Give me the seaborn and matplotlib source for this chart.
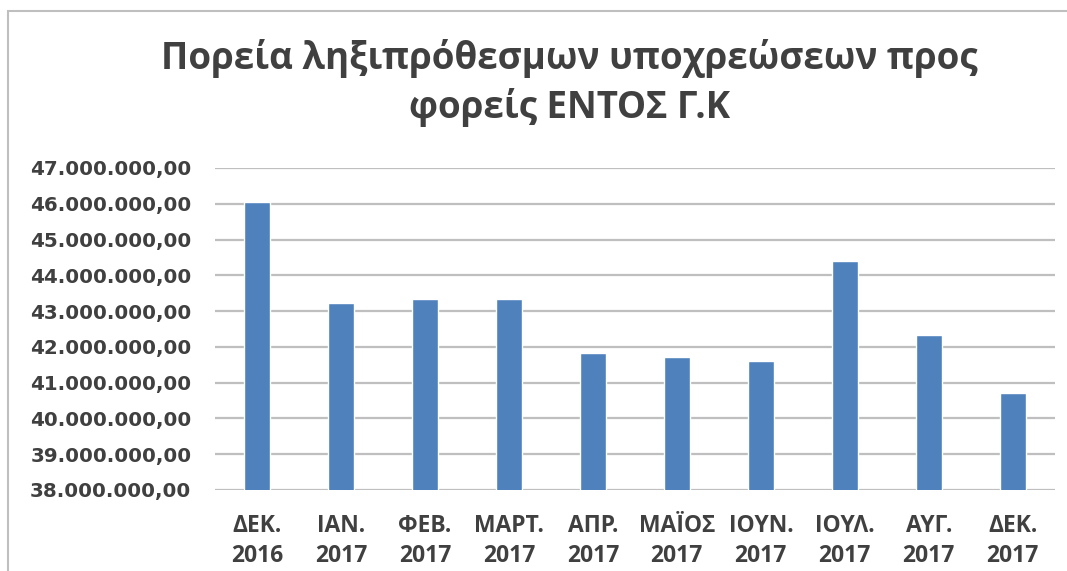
import pandas as pd
import matplotlib
matplotlib.use("Agg")
import matplotlib.pyplot as plt
import seaborn as sns
from matplotlib.ticker import FuncFormatter
from matplotlib.patches import Rectangle


# Data

months = ["ΔΕΚ.\n2016", "ΙΑΝ.\n2017", "ΦΕΒ.\n2017", "ΜΑΡΤ.\n2017", "ΑΠΡ.\n2017",
          "ΜΑΪΟΣ\n2017", "ΙΟΥΝ.\n2017", "ΙΟΥΛ.\n2017", "ΑΥΓ.\n2017", "ΔΕΚ.\n2017"]
values = [46060000, 43240000, 43350000, 43350000, 41820000,
          41710000, 41600000, 44410000, 42330000, 40710000]

df = pd.DataFrame({"month": months, "value": values})

title = "Πορεία ληξιπρόθεσμων υποχρεώσεων προς\nφορείς ΕΝΤΟΣ Γ.Κ"


# Plot

sns.set_style("white")
plt.rcParams["font.family"] = ["Open Sans", "DejaVu Sans"]

fig = plt.figure(figsize=(10.67, 5.71), dpi=100)
ax = fig.add_axes([0.2015, 0.1419, 0.787, 0.5639])

sns.barplot(data=df, x="month", y="value", color="#4F81BD", width=0.31,
            saturation=1, ax=ax)

ax.set_ylim(38000000, 47000000)
ax.set_yticks(range(38000000, 47000001, 1000000))


def greek_fmt(v, pos):
    s = f"{v:,.2f}"
    return s.replace(",", "X").replace(".", ",").replace("X", ".")


ax.yaxis.set_major_formatter(FuncFormatter(greek_fmt))
ax.grid(axis="y", color="#BFBFBF", linewidth=1.6)
ax.set_axisbelow(True)
for side in ["top", "right", "left", "bottom"]:
    ax.spines[side].set_visible(False)
ax.tick_params(axis="both", length=0)
ax.tick_params(axis="y", pad=17)
ax.tick_params(axis="x", pad=17)

for lbl in ax.get_yticklabels():
    lbl.set_family("DejaVu Sans")
    lbl.set_fontweight("bold")
    lbl.set_fontsize(14.3)
    lbl.set_color("#404040")
for lbl in ax.get_xticklabels():
    lbl.set_fontweight("bold")
    lbl.set_fontsize(16.5)
    lbl.set_color("#404040")
    lbl.set_linespacing(1.35)

ax.set_xlabel("")
ax.set_ylabel("")

fig.text(0.534, 0.855, title, ha="center", va="center", fontsize=26.5,
         fontweight="bold", color="#404040", linespacing=1.35)

# chart border
fig.patches.append(Rectangle((8 / 1067, -0.05), 1.1, 1 - 11 / 571 + 0.05,
                             transform=fig.transFigure, fill=False,
                             edgecolor="#BFBFBF", linewidth=1.5))

fig.savefig("out.png", dpi=100)
